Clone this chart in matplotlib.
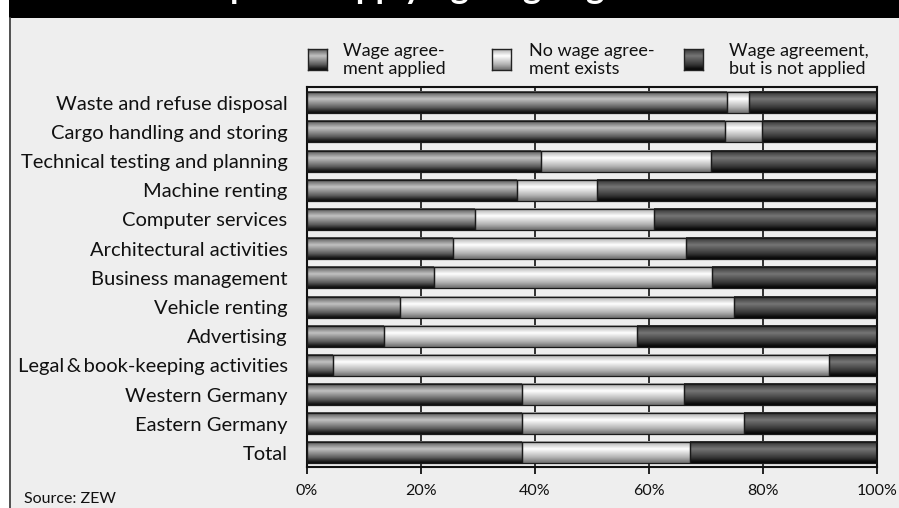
"""Share of firms applying wage agreements, by sector."""
import numpy as np
import matplotlib
matplotlib.use('Agg')
import matplotlib.pyplot as plt
from matplotlib.patches import Rectangle

categories = ['Waste and refuse disposal', 'Cargo handling and storing',
              'Technical testing and planning', 'Machine renting',
              'Computer services', 'Architectural activities',
              'Business management', 'Vehicle renting', 'Advertising',
              'Legal\u2009&\u2009book-keeping activities', 'Western Germany',
              'Eastern Germany', 'Total']
applied = [73.7, 73.3, 41.0, 36.8, 29.5, 25.6, 22.3, 16.3, 13.5, 4.6, 37.8, 37.8, 37.8]
no_agreement = [3.8, 6.5, 29.9, 14.0, 31.4, 40.9, 48.8, 58.6, 44.4, 87.0, 28.4, 38.8, 29.4]
not_applied = [22.5, 20.2, 29.1, 49.2, 39.1, 33.5, 28.9, 25.1, 42.1, 8.4, 33.8, 23.4, 32.8]
series_labels = ['Wage agree-\nment applied', 'No wage agree-\nment exists',
                 'Wage agreement,\nbut is not applied']
xticks = [0, 20, 40, 60, 80, 100]
xtick_labels = ['0%', '20%', '40%', '60%', '80%', '100%']
title = 'Companies applying wage agreements'
source = 'Source: ZEW'

plt.rcParams['font.family'] = ['Lato', 'DejaVu Sans']

# (dark, light) grey levels of the shaded bars
shades = [(0.05, 0.76), (0.45, 1.0), (0.02, 0.46)]
prof_t = [0.0, 0.08, 0.35, 0.75, 0.92, 1.0]
prof_f = [0.35, 0.5, 1.0, 0.45, 0.12, 0.0]


def gradient(dark, light, n=40):
    f = np.interp(np.linspace(0, 1, n), prof_t, prof_f)
    g = dark + (light - dark) * f
    return np.repeat(g[:, None, None], 3, axis=2)


fig = plt.figure(figsize=(8.99, 5.08), dpi=100)
fig.patch.set_facecolor('white')
W, H = 899, 508

# panel background, title bar, left border
fig.patches.append(Rectangle((9 / W, 0), 1, 1 - 18 / H, transform=fig.transFigure,
                             facecolor='#eeeeee', edgecolor='none', zorder=-5))
fig.patches.append(Rectangle((9 / W, 1 - 18 / H), 1, 18 / H, transform=fig.transFigure,
                             facecolor='black', edgecolor='none', zorder=-4))
fig.add_artist(plt.Line2D([9.5 / W, 9.5 / W], [0, 1 - 18 / H], transform=fig.transFigure,
                          color='#444444', lw=1.3))
fig.text(158 / W, 1 + 1.5 / H, title, color='white', fontsize=25, fontweight='bold',
         ha='left', va='baseline')

ax = fig.add_axes([307 / W, 1 - 467 / H, 570 / W, 380.3 / H])
ax.set_facecolor('#eeeeee')

y = np.arange(len(categories))
h = 0.72
series = [applied, no_agreement, not_applied]
left = np.zeros(len(categories))
for vals, (dk, lt) in zip(series, shades):
    img = gradient(dk, lt)
    for yi, l, v in zip(y, left, vals):
        ax.imshow(img, extent=(l, l + v, yi + h / 2, yi - h / 2), aspect='auto',
                  origin='upper', interpolation='bilinear', zorder=2)
    ax.barh(y, vals, left=left, height=h, fill=False, edgecolor='#1a1a1a',
            linewidth=0.9, zorder=3)
    left = left + np.array(vals)

ax.set_xlim(0, 100)
ax.set_ylim(len(categories) - 1 + 0.48, -0.55)
ax.set_yticks(y)
ax.set_yticklabels(categories, fontsize=14.5, color='#111111')
ax.tick_params(axis='y', length=0, pad=14)
ax.set_xticks(xticks)
ax.set_xticklabels(xtick_labels, fontsize=11.5, color='#111111')
ax.tick_params(axis='x', length=5, width=1.3, color='#111111', pad=7)
ax.grid(axis='x', color='#222222', linewidth=1.3, zorder=0)
ax.set_axisbelow(True)
for sp in ax.spines.values():
    sp.set_color('#111111')
    sp.set_linewidth(1.5)

# legend
legend_x = [308, 492, 684]
text_x = [343, 529, 729]
for lx, tx, lab, (dk, lt) in zip(legend_x, text_x, series_labels, shades):
    lax = fig.add_axes([lx / W, 1 - 70 / H, 19 / W, 21 / H])
    lax.imshow(gradient(dk, lt), aspect='auto', interpolation='bilinear')
    lax.set_xticks([])
    lax.set_yticks([])
    for sp in lax.spines.values():
        sp.set_color('#222222')
        sp.set_linewidth(1)
    fig.text(tx / W, 1 - 60 / H, lab, fontsize=13, color='#111111',
             ha='left', va='center', linespacing=1.1)

fig.text(24 / W, 1 - 499 / H, source, fontsize=11.5, color='#111111',
         ha='left', va='center')

fig.savefig('out.png', dpi=100, facecolor=fig.get_facecolor())
